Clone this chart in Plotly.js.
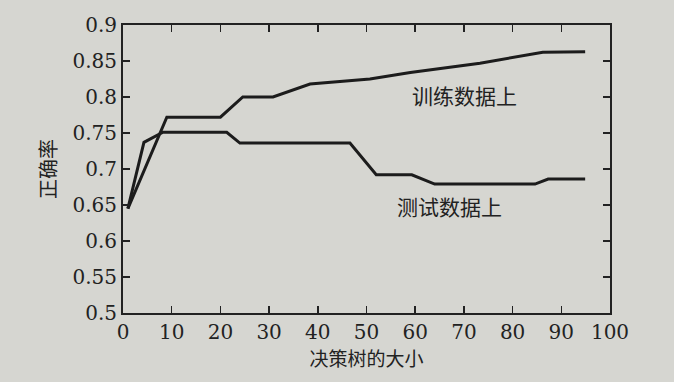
<!DOCTYPE html>
<html>
<head>
<meta charset="utf-8">
<script src="https://cdn.plot.ly/plotly-3.0.1.min.js"></script>
<style>html,body{margin:0;padding:0;background:#d6d6d1;}</style>
</head>
<body>
<div id="chart" style="width:674px;height:382px;"></div>
<script>
const trainX = [1, 9, 20, 24.6, 30.8, 38.4, 50.7, 59, 73.3, 86.2, 94.9];
const trainY = [0.645, 0.772, 0.772, 0.800, 0.800, 0.818, 0.825, 0.834, 0.847, 0.862, 0.863];
const testX = [1, 4.3, 8.2, 21.3, 24, 46.6, 52, 59.3, 64, 84.6, 87.3, 94.9];
const testY = [0.645, 0.737, 0.751, 0.751, 0.736, 0.736, 0.692, 0.692, 0.679, 0.679, 0.686, 0.686];
const xTicks = [0, 10, 20, 30, 40, 50, 60, 70, 80, 90, 100];
const yTicks = [0.5, 0.55, 0.6, 0.65, 0.7, 0.75, 0.8, 0.85, 0.9];
const yTickText = ['0.5', '0.55', '0.6', '0.65', '0.7', '0.75', '0.8', '0.85', '0.9'];

const serif = 'DejaVu Serif';
const cjk = 'Noto Sans CJK SC';
const ink = '#222222';

const traces = [
  {x: trainX, y: trainY, mode: 'lines', line: {color: '#1c1c1c', width: 3}, hoverinfo: 'skip'},
  {x: testX, y: testY, mode: 'lines', line: {color: '#1c1c1c', width: 3}, hoverinfo: 'skip'}
];

const layout = {
  width: 674, height: 382,
  margin: {l: 123, r: 64, t: 25, b: 69},
  paper_bgcolor: '#d6d6d1',
  plot_bgcolor: '#d6d6d1',
  showlegend: false,
  font: {family: serif, size: 20, color: ink},
  xaxis: {
    range: [0, 100], tickvals: xTicks, ticktext: xTicks.map(String),
    ticks: 'inside', ticklen: 7, tickwidth: 1.5, tickcolor: ink,
    showline: true, linecolor: ink, linewidth: 2, mirror: 'ticks',
    showgrid: false, zeroline: false,
    tickfont: {family: serif, size: 20, color: ink},
    title: {text: '决策树的大小', font: {family: cjk, size: 19, color: ink}, standoff: 2}
  },
  yaxis: {
    range: [0.5, 0.9], tickvals: yTicks, ticktext: yTickText,
    ticks: 'inside', ticklen: 7, tickwidth: 1.5, tickcolor: ink,
    showline: true, linecolor: ink, linewidth: 2, mirror: 'ticks',
    showgrid: false, zeroline: false,
    tickfont: {family: serif, size: 20, color: ink},
    title: {text: '正确率', font: {family: cjk, size: 20, color: ink}, standoff: 10}
  },
  annotations: [
    {x: 70.2, y: 0.803, xref: 'x', yref: 'y', text: '训练数据上', showarrow: false,
     font: {family: cjk, size: 21, color: ink}},
    {x: 67, y: 0.649, xref: 'x', yref: 'y', text: '测试数据上', showarrow: false,
     font: {family: cjk, size: 21, color: ink}}
  ]
};

Plotly.newPlot('chart', traces, layout, {displayModeBar: false, staticPlot: true});
</script>
</body>
</html>
